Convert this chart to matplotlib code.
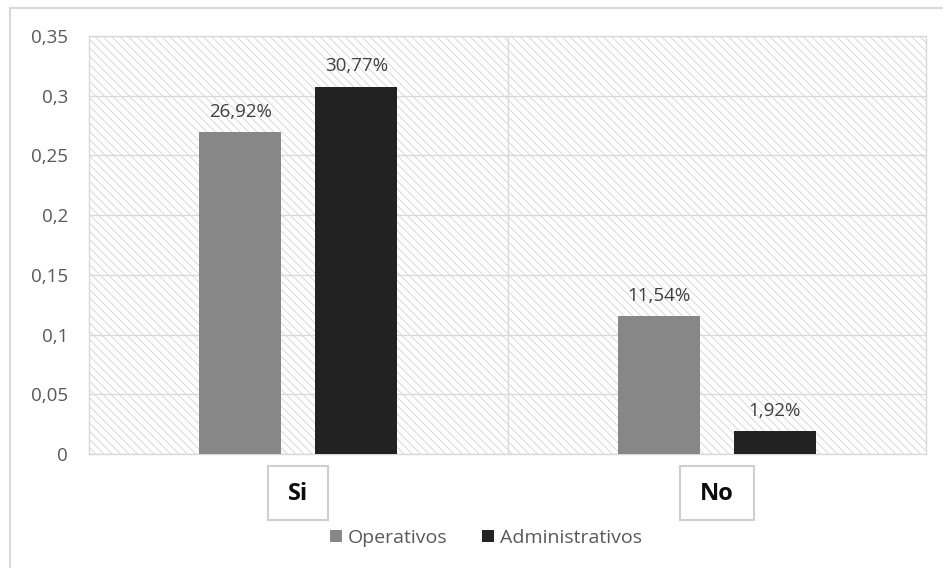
import matplotlib
matplotlib.use("Agg")
import matplotlib.pyplot as plt
from matplotlib.patches import Rectangle
from matplotlib.transforms import blended_transform_factory
import numpy as np

# Data
categories = ["Si", "No"]
series_names = ["Operativos", "Administrativos"]
operativos = [0.2692, 0.1154]
administrativos = [0.3077, 0.0192]
yticks = [0, 0.05, 0.1, 0.15, 0.2, 0.25, 0.3, 0.35]

colors = ["#878787", "#222222"]
grid_c = "#d9d9d9"
text_c = "#595959"

plt.rcParams["font.family"] = ["Open Sans", "DejaVu Sans"]
plt.rcParams["hatch.linewidth"] = 0.6
plt.rcParams["hatch.color"] = "#d2d2d2"

fig = plt.figure(figsize=(9.43, 5.68), dpi=100)
fig.patch.set_facecolor("white")
ax = fig.add_axes([89 / 943, 1 - 454 / 568, (926 - 89) / 943, (454 - 36) / 568])

# outer chart border
fig.add_artist(Rectangle((10 / 943, -0.1), 1.2, 0.1 + 1 - 8 / 568, transform=fig.transFigure,
                         fill=False, edgecolor=grid_c, linewidth=1.5))

# hatched plot background
ax.patch.set_alpha(0)
ax.add_patch(Rectangle((0, 0), 1, 1, transform=ax.transAxes, facecolor="white",
                       edgecolor="#d2d2d2", hatch="\\\\\\\\", linewidth=0, zorder=0))

x = np.arange(len(categories))
width = 0.196
offset = 0.139

b1 = ax.bar(x - offset, operativos, width, color=colors[0], label=series_names[0], zorder=3)
b2 = ax.bar(x + offset, administrativos, width, color=colors[1], label=series_names[1], zorder=3)


def pct(v):
    return f"{v * 100:.2f}%".replace(".", ",")


for bars, vals in ((b1, operativos), (b2, administrativos)):
    for rect, v in zip(bars, vals):
        ax.annotate(pct(v), (rect.get_x() + rect.get_width() / 2, v),
                    xytext=(0, 11.2), textcoords="offset points",
                    ha="center", va="baseline", fontsize=13.5, color="#404040", zorder=4)

ax.set_xlim(-0.5, len(categories) - 0.5)
ax.set_ylim(0, 0.35)
ax.set_yticks(yticks)
ax.set_yticklabels([f"{t:g}".replace(".", ",") for t in yticks])
ax.tick_params(axis="y", length=0, pad=15, labelsize=13.5, labelcolor=text_c)
ax.set_xticks([])

# grid
for t in yticks:
    ax.axhline(t, color=grid_c, linewidth=1, zorder=1)
for k in range(len(categories) - 1):
    ax.axvline(k + 0.5, color=grid_c, linewidth=1, zorder=1)
for s in ax.spines.values():
    s.set_color(grid_c)
    s.set_linewidth(1)

# boxed category labels
blend = blended_transform_factory(ax.transData, ax.transAxes)
cat_texts = []
for i, c in enumerate(categories):
    t = ax.text(i, (454 - 500) / 418, c, transform=blend, ha="center", va="baseline",
                fontsize=17, fontweight="bold", color="#0d0d0d")
    cat_texts.append(t)

fig.canvas.draw()
renderer = fig.canvas.get_renderer()
W, H = fig.bbox.width, fig.bbox.height
for t in cat_texts:
    bb = t.get_window_extent(renderer)
    cx = (bb.x0 + bb.x1) / 2
    w = bb.width + 40
    fig.add_artist(Rectangle(((cx - w / 2) / W, 1 - 520 / 568), w / W, 54 / 568,
                             transform=fig.transFigure, fill=False,
                             edgecolor="#cfcfcf", linewidth=1.5))

leg = fig.legend(handles=[b1, b2], labels=series_names, loc="center",
                 bbox_to_anchor=(486 / 943, 1 - 538 / 568), ncol=2, frameon=False,
                 fontsize=14, handlelength=0.6, handleheight=0.6, handletextpad=0.3,
                 columnspacing=1.8, labelcolor=text_c)

fig.savefig("out.png", dpi=100, facecolor="white")
